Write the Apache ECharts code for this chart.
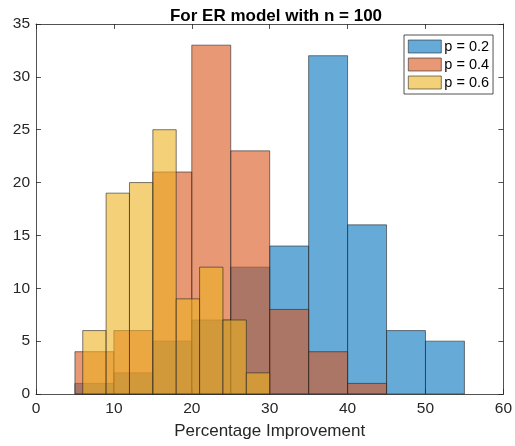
<!DOCTYPE html>
<html>
<head>
<meta charset="utf-8">
<script src="https://cdn.jsdelivr.net/npm/echarts@6/dist/echarts.min.js"></script>
<style>html,body{margin:0;padding:0;background:#fff;}#c{width:515px;height:446px;}</style>
</head>
<body>
<div id="c"></div>
<script>
var titleText = 'For ER model with n = 100';
var xLabel = 'Percentage Improvement';
var seriesNames = ['p = 0.2', 'p = 0.4', 'p = 0.6'];
var blueEdges = [5, 10, 15, 20, 25, 30, 35, 40, 45, 50, 55];
var blueCounts = [1, 2, 5, 7, 12, 14, 32, 16, 6, 5];
var orangeEdges = [5, 10, 15, 20, 25, 30, 35, 40, 45];
var orangeCounts = [4, 6, 21, 33, 23, 8, 4, 1];
var yellowEdges = [6, 9, 12, 15, 18, 21, 24, 27, 30];
var yellowCounts = [6, 19, 20, 25, 9, 12, 7, 2];
var xTicks = [0, 10, 20, 30, 40, 50, 60];
var yTicks = [0, 5, 10, 15, 20, 25, 30, 35];

var colors = ['rgba(0,114,189,0.6)', 'rgba(217,83,25,0.6)', 'rgba(237,177,32,0.6)'];
var edgeColor = '#262626';
var fontFam = '"Liberation Sans", Arial, Helvetica, sans-serif';

function binData(edges, counts) {
  var out = [];
  for (var i = 0; i < counts.length; i++) out.push([edges[i], edges[i + 1], counts[i]]);
  return out;
}
function makeRender(color) {
  return function (params, api) {
    var x0 = api.value(0), x1 = api.value(1), y = api.value(2);
    var p0 = api.coord([x0, y]);
    var p1 = api.coord([x1, 0]);
    return {
      type: 'rect',
      shape: { x: p0[0], y: p0[1], width: p1[0] - p0[0], height: p1[1] - p0[1] },
      style: { fill: color, stroke: edgeColor, lineWidth: 0.6 }
    };
  };
}
var dataSets = [binData(blueEdges, blueCounts), binData(orangeEdges, orangeCounts), binData(yellowEdges, yellowCounts)];

var axisCommon = {
  axisLine: { show: true, onZero: false, lineStyle: { color: edgeColor, width: 0.8 } },
  axisTick: { show: true, inside: true, length: 5, lineStyle: { color: edgeColor, width: 0.8 } },
  splitLine: { show: false }
};

var chart = echarts.init(document.getElementById('c'), null, { renderer: 'canvas' });
chart.setOption({
  animation: false,
  backgroundColor: '#fff',
  title: {
    text: titleText, left: 271, top: 3, textAlign: 'center',
    textStyle: { fontFamily: fontFam, fontSize: 17, fontWeight: 'bold', color: '#000' }
  },
  legend: {
    orient: 'vertical', left: 404, top: 35,
    itemWidth: 33, itemHeight: 13, itemGap: 3,
    padding: [4, 4, 4, 4],
    borderColor: '#262626', borderWidth: 0.8, backgroundColor: '#fff',
    textStyle: { fontFamily: fontFam, fontSize: 14.5, color: '#000', padding: [0, 0, 0, -2] },
    icon: 'rect',
    data: seriesNames.map(function (n, i) {
      return { name: n, itemStyle: { color: colors[i], borderColor: edgeColor, borderWidth: 0.6 } };
    })
  },
  grid: { left: 36, right: 9, top: 24, bottom: 52 },
  xAxis: [
    Object.assign({
      type: 'value', min: xTicks[0], max: xTicks[xTicks.length - 1], interval: 10, position: 'bottom',
      name: xLabel, nameLocation: 'middle', nameGap: 29,
      nameTextStyle: { fontFamily: fontFam, fontSize: 17, color: '#262626' },
      axisLabel: { fontFamily: fontFam, fontSize: 15.5, color: '#262626', margin: 7 }
    }, axisCommon),
    Object.assign({
      type: 'value', min: xTicks[0], max: xTicks[xTicks.length - 1], interval: 10, position: 'top',
      axisLabel: { show: false }
    }, axisCommon)
  ],
  yAxis: [
    Object.assign({
      type: 'value', min: yTicks[0], max: yTicks[yTicks.length - 1], interval: 5, position: 'left',
      axisLabel: { fontFamily: fontFam, fontSize: 15.5, color: '#262626', margin: 6 }
    }, axisCommon),
    Object.assign({
      type: 'value', min: yTicks[0], max: yTicks[yTicks.length - 1], interval: 5, position: 'right',
      axisLabel: { show: false }
    }, axisCommon)
  ],
  series: seriesNames.map(function (n, i) {
    return {
      name: n, type: 'custom', xAxisIndex: 0, yAxisIndex: 0,
      renderItem: makeRender(colors[i]),
      itemStyle: { color: colors[i], borderColor: edgeColor, borderWidth: 0.6 },
      encode: { x: [0, 1], y: 2 },
      data: dataSets[i],
      z: 2 + i
    };
  })
});
</script>
</body>
</html>
